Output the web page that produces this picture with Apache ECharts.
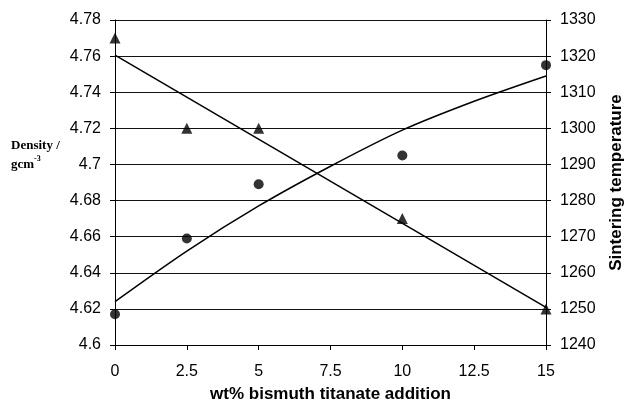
<!DOCTYPE html>
<html>
<head>
<meta charset="utf-8">
<script src="https://cdn.jsdelivr.net/npm/echarts@6/dist/echarts.min.js"></script>
<style>
  html, body { margin: 0; padding: 0; background: #fff; }
  #chart { width: 625px; height: 400px; }
</style>
</head>
<body>
<div id="chart"></div>
<script>
// measured points
var xDensity = [0, 2.5, 5, 10, 15];
var density = [4.617, 4.659, 4.689, 4.705, 4.755];
var xTemp = [0, 2.5, 5, 10, 15];
var sinterTemp = [1325, 1300, 1300, 1275, 1250];

// trend lines
var densityTrendX = [0, 2.5, 5, 7.5, 10, 12.5, 15];
var densityTrend = [4.624, 4.652, 4.677, 4.699, 4.719, 4.735, 4.749];
var tempTrendX = [0, 15];
var tempTrend = [1320.3, 1250.4];

function pairs(xs, ys) {
    return xs.map(function (x, i) { return [x, ys[i]]; });
}

var tickFont = { color: '#000', fontSize: 16, fontFamily: 'Liberation Sans, Arial, sans-serif' };
var titleFont = { color: '#000', fontSize: 17, fontWeight: 'bold', fontFamily: 'Liberation Sans, Arial, sans-serif' };

var chart = echarts.init(document.getElementById('chart'));
var options = {
    animation: false,
    backgroundColor: '#fff',
    grid: { left: 115, right: 79, top: 20, bottom: 55, containLabel: false, outerBoundsMode: 'none' },
    xAxis: {
        type: 'value',
        min: 0,
        max: 15,
        interval: 2.5,
        name: 'wt% bismuth titanate addition',
        nameLocation: 'middle',
        nameGap: 41,
        nameTextStyle: titleFont,
        axisLine: { show: true, onZero: false, lineStyle: { color: '#000', width: 1 } },
        axisTick: { show: true, inside: false, length: 5, lineStyle: { color: '#000' } },
        axisLabel: Object.assign({ margin: 19 }, tickFont),
        splitLine: { show: false }
    },
    yAxis: [{
        type: 'value',
        min: 4.6,
        max: 4.78,
        interval: 0.02,
        position: 'left',
        axisLine: { show: true, lineStyle: { color: '#000', width: 1 } },
        axisTick: { show: true, inside: false, length: 5, lineStyle: { color: '#000' } },
        axisLabel: Object.assign({ margin: 14 }, tickFont),
        splitLine: { show: true, lineStyle: { color: '#111', width: 1 } }
    }, {
        type: 'value',
        min: 1240,
        max: 1330,
        interval: 10,
        position: 'right',
        name: 'Sintering temperature',
        nameLocation: 'middle',
        nameRotate: 90,
        nameGap: 62,
        nameTextStyle: titleFont,
        axisLine: { show: true, lineStyle: { color: '#000', width: 1 } },
        axisTick: { show: true, inside: false, length: 5, lineStyle: { color: '#000' } },
        axisLabel: Object.assign({
            margin: 14,
            formatter: function (v) { return String(v); }
        }, tickFont),
        splitLine: { show: false }
    }],
    graphic: [{
        type: 'text',
        left: 11,
        top: 139,
        style: {
            text: '{a|Density /}\n{a|gcm}{s|-3}',
            rich: {
                a: { fontSize: 13, fontWeight: 'bold', fontFamily: 'Liberation Serif, Times New Roman, serif', fill: '#000', lineHeight: 19 },
                s: { fontSize: 8, fontWeight: 'bold', fontFamily: 'Liberation Serif, Times New Roman, serif', fill: '#000', verticalAlign: 'top', lineHeight: 19 }
            }
        }
    }],
    series: [{
        type: 'line',
        yAxisIndex: 0,
        data: pairs(densityTrendX, densityTrend),
        smooth: 0.3,
        symbol: 'none',
        lineStyle: { color: '#000', width: 1.5 },
        z: 2
    }, {
        type: 'line',
        yAxisIndex: 1,
        data: pairs(tempTrendX, tempTrend),
        symbol: 'none',
        lineStyle: { color: '#000', width: 1.5 },
        z: 2
    }, {
        type: 'scatter',
        yAxisIndex: 0,
        data: pairs(xDensity, density),
        symbol: 'circle',
        symbolSize: 10,
        itemStyle: { color: '#000' },
        z: 3
    }, {
        type: 'scatter',
        yAxisIndex: 1,
        data: pairs(xTemp, sinterTemp),
        symbol: 'triangle',
        symbolSize: [11, 11],
        itemStyle: { color: '#000' },
        z: 3
    }]
};
chart.setOption(options);
</script>
</body>
</html>
